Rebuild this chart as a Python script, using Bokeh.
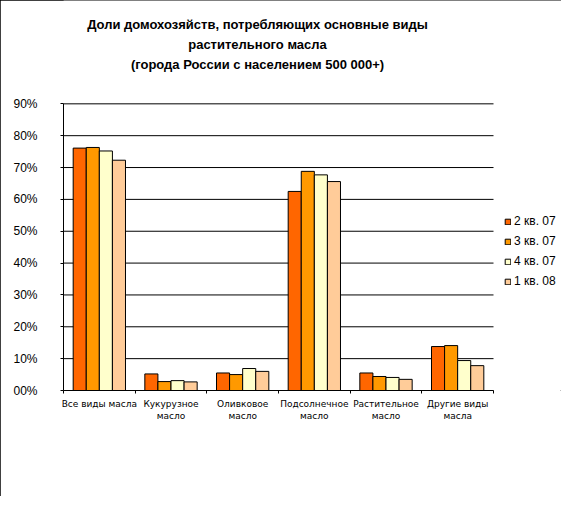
from bokeh.plotting import figure
from bokeh.models import (Range1d, FixedTicker, LinearAxis, Legend, LegendItem,
                          Label, ColumnDataSource)
from bokeh.transform import dodge
from bokeh.embed import file_html
from bokeh.resources import INLINE

# ---- data ----
categories = ["Все виды масла", "Кукурузное масло", "Оливковое масло",
              "Подсолнечное масло", "Растительное масло", "Другие виды масла"]
category_labels = ["Все виды масла", "Кукурузное\nмасло", "Оливковое\nмасло",
                   "Подсолнечное\nмасло", "Растительное\nмасло", "Другие виды\nмасла"]
series_names = ["2 кв. 07", "3 кв. 07", "4 кв. 07", "1 кв. 08"]
q2_07 = [76.1, 5.2, 5.5, 62.5, 5.5, 13.8]
q3_07 = [76.3, 2.8, 5.0, 68.8, 4.4, 14.1]
q4_07 = [75.2, 3.1, 6.9, 67.7, 4.1, 9.4]
q1_08 = [72.3, 2.7, 6.0, 65.6, 3.5, 7.8]
colors = ["#FF6600", "#FF9900", "#FFFFCC", "#FFCC99"]
y_ticks = [0, 10, 20, 30, 40, 50, 60, 70, 80, 90]
y_tick_labels = ["00%", "10%", "20%", "30%", "40%", "50%", "60%", "70%", "80%", "90%"]
title_lines = ["Доли домохозяйств, потребляющих основные виды",
               "растительного масла",
               "(города России с населением 500 000+)"]

FONT = "Liberation Sans"

# ---- layout (pixels) ----
W, H = 561, 496
LEFT, BOTTOM_PAD = 63, 106
plot_px_w = 430.0          # width of the 6 category slots
plot_px_h = 286.67         # height of 0..90 %
frame_w = W - LEFT
frame_h = H - BOTTOM_PAD

n = len(categories)
y_top = max(y_ticks)
px_per_x = plot_px_w / n
px_per_y = plot_px_h / y_top
x_end = frame_w / px_per_x
y_end = frame_h / px_per_y

centers = [i + 0.5 for i in range(n)]
src = ColumnDataSource(dict(x=centers, cat=categories,
                            s0=q2_07, s1=q3_07, s2=q4_07, s3=q1_08))

p = figure(width=W, height=H, x_range=Range1d(0, x_end), y_range=Range1d(0, y_end),
           x_axis_type=None, y_axis_type=None, output_backend="svg",
           toolbar_location=None, min_border_left=LEFT, min_border_right=0,
           min_border_top=0, min_border_bottom=BOTTOM_PAD)
p.outline_line_color = None
p.background_fill_color = "white"
p.border_fill_color = "white"
p.styles = {"outline": "1px solid black", "outline-offset": "-1px"}

# horizontal grid lines, only across the category area
p.segment(x0=0, x1=n, y0=y_ticks, y1=y_ticks, line_color="black", line_width=1)

# bars
bw = 0.1825
renderers = []
for k, (name, col) in enumerate(zip(series_names, colors)):
    off = (k - 1.5) * bw
    r = p.vbar(x=dodge("x", off, range=p.x_range), top="s%d" % k, width=bw,
               source=src, fill_color=col, line_color="black", line_width=1)
    renderers.append(r)

# y axis
yax = LinearAxis(ticker=FixedTicker(ticks=y_ticks), bounds=(0, y_top),
                 major_label_overrides={t: l for t, l in zip(y_ticks, y_tick_labels)},
                 major_tick_in=0, major_tick_out=3, minor_tick_in=0, minor_tick_out=0,
                 major_label_standoff=23, axis_line_color="black",
                 major_tick_line_color="black",
                 major_label_text_font=FONT, major_label_text_font_size="12px",
                 major_label_text_color="black")
p.add_layout(yax, "left")

# x axis: labels at centers, tick marks at category boundaries
xax = LinearAxis(ticker=FixedTicker(ticks=centers, minor_ticks=list(range(n + 1))),
                 bounds=(0, n),
                 major_label_overrides={c: l for c, l in zip(centers, category_labels)},
                 major_tick_in=0, major_tick_out=0, major_tick_line_color=None,
                 minor_tick_in=0, minor_tick_out=3, minor_tick_line_color="black",
                 major_label_standoff=5, axis_line_color="black",
                 major_label_text_font="DejaVu Sans", major_label_text_font_size="9px",
                 major_label_text_color="black")
p.add_layout(xax, "below")

# legend (inside the extended frame, right of the bars)
legend = Legend(items=[LegendItem(label=nm, renderers=[r])
                       for nm, r in zip(series_names, renderers)],
                location=(441, 99), glyph_width=7, glyph_height=7,
                label_text_font=FONT, label_text_font_size="12px",
                label_text_color="black", label_height=20, spacing=0,
                label_standoff=3, padding=0, margin=0,
                border_line_color=None, background_fill_alpha=0)
p.add_layout(legend, "center")

# title
title_x = (257 - LEFT) / px_per_x
title_y_px = [24, 44, 63.5]
for line, ty in zip(title_lines, title_y_px):
    p.add_layout(Label(x=title_x, y=(frame_h - ty) / px_per_y, text=line,
                       text_align="center", text_baseline="middle", text_font=FONT,
                       text_font_size="13px", text_font_style="bold",
                       text_color="black"))

open("out.html", "w").write(file_html(p, INLINE))
